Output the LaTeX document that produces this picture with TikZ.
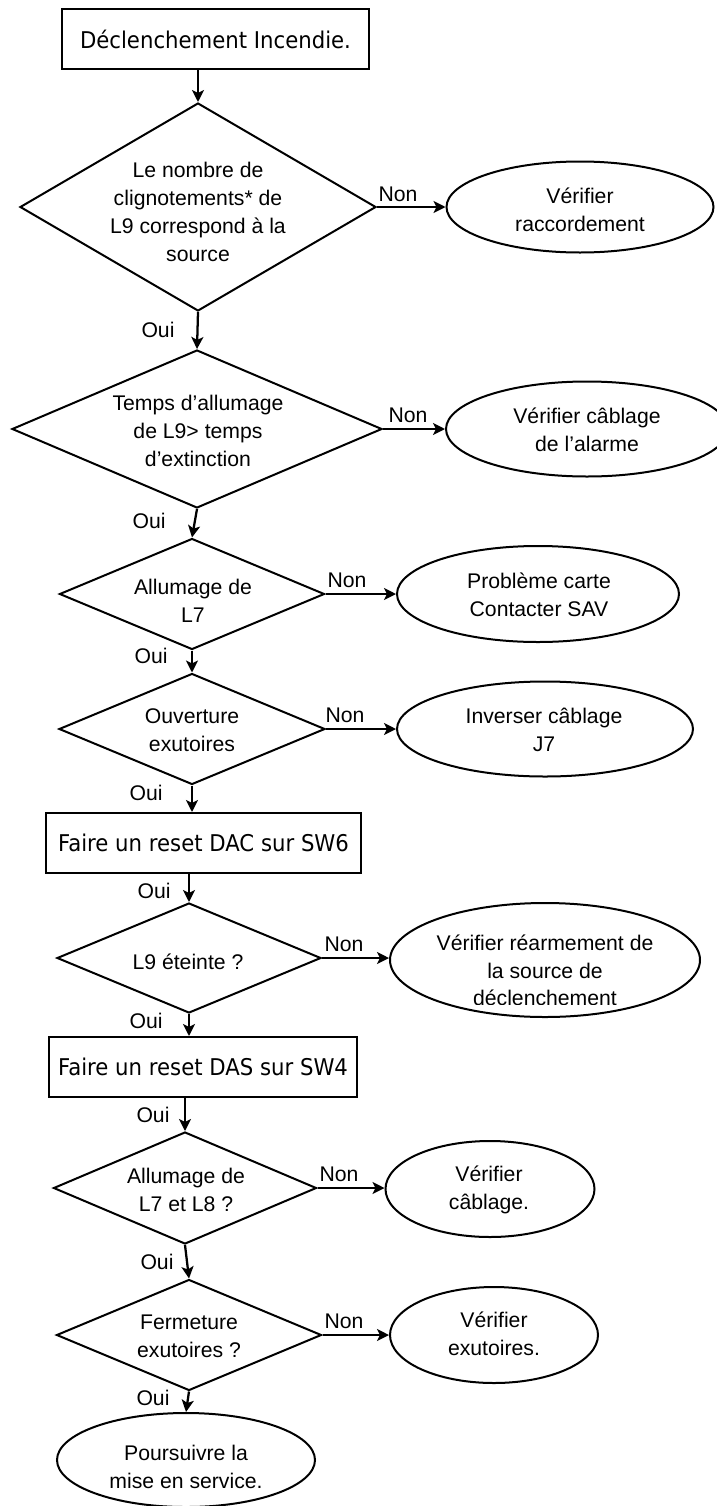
\documentclass[tikz,border=0pt]{standalone}
\usepackage{fontspec}
\setmainfont{Liberation Sans}
\newfontfamily\boxfont[FakeStretch=0.92]{DejaVu Sans}
\usetikzlibrary{shapes.geometric,arrows.meta}
\newlength\px
\setlength\px{0.75pt}
\begin{document}
\begin{tikzpicture}[x=0.75pt,y=-0.75pt,
  every node/.style={font=\fontsize{15.9pt}{20.8pt}\selectfont, text=black},
  dec/.style={diamond, draw, line width=1.5pt, inner sep=0pt},
  oval/.style={ellipse, draw, line width=1.5pt, inner sep=0pt},
  stepbox/.style={rectangle, draw, line width=1.5pt, inner sep=0pt, minimum height=60\px,
    font=\boxfont\fontsize{17.3pt}{20pt}\selectfont},
  txt/.style={align=center, inner sep=0pt},
  lbl/.style={inner sep=0pt},
  arr/.style={line width=1.7pt, -{Stealth[length=9pt,width=9pt,inset=2.2pt]}}
]
\fill[white] (0,0) rectangle (717,1506);
\clip (0,0) rectangle (717,1506);

% boxes
\node[stepbox, minimum width=307\px] (b1) at (215.5,39) {Déclenchement Incendie.};
\node[stepbox, minimum width=315\px] (dac) at (203.5,843) {Faire un reset DAC sur SW6};
\node[stepbox, minimum width=308\px] (das) at (203,1067) {Faire un reset DAS sur SW4};

% decisions
\node[dec, minimum width=356\px, minimum height=208\px] (d1) at (198,207) {};
\node[dec, minimum width=370\px, minimum height=158\px] (d2) at (197,429) {};
\node[dec, minimum width=265\px, minimum height=111\px] (d3) at (192,594) {};
\node[dec, minimum width=266\px, minimum height=111\px] (d4) at (192,729) {};
\node[dec, minimum width=264\px, minimum height=110\px] (d5) at (189,958) {};
\node[dec, minimum width=263\px, minimum height=112\px] (d6) at (185,1188) {};
\node[dec, minimum width=265\px, minimum height=111\px] (d7) at (189,1335) {};

\node[txt] (d1t) at (198,212) {Le nombre de\\clignotements* de\\L9 correspond à la\\source};
\node[txt] (d2t) at (198,431) {Temps d’allumage\\de L9> temps\\d’extinction};
\node[txt] (d3t) at (193,601) {Allumage de\\L7};
\node[txt] (d4t) at (192,730) {Ouverture\\exutoires};
\node[txt] (d5t) at (188,962) {L9 éteinte ?};
\node[txt] (d6t) at (186,1190) {Allumage de\\L7 et L8 ?};
\node[txt] (d7t) at (189,1336) {Fermeture\\exutoires ?};

% terminals
\node[oval, minimum width=267\px, minimum height=91\px] (e1) at (580,207) {};
\node[oval, minimum width=282\px, minimum height=95\px] (e2) at (587,429) {};
\node[oval, minimum width=282\px, minimum height=96\px] (e3) at (538,594) {};
\node[oval, minimum width=296\px, minimum height=95\px] (e4) at (545,729) {};
\node[oval, minimum width=310\px, minimum height=114\px] (e5) at (545,960) {};
\node[oval, minimum width=209\px, minimum height=96\px] (e6) at (490,1189) {};
\node[oval, minimum width=208\px, minimum height=96\px] (e7) at (494,1335) {};
\node[oval, minimum width=258\px, minimum height=94\px] (e8) at (186,1460) {};

\node[txt] (e1t) at (580,210) {Vérifier\\raccordement};
\node[txt] (e2t) at (587,430) {Vérifier câblage\\de l’alarme};
\node[txt] (e3t) at (539,595) {Problème carte\\Contacter SAV};
\node[txt] (e4t) at (544,730) {Inverser câblage\\J7};
\begin{scope}
\clip (380,890) rectangle (710,1004);
\node[txt] (e5t) at (545,970.5) {Vérifier réarmement de\\la source de\\déclenchement};
\end{scope}
\node[txt] (e6t) at (489,1190) {Vérifier\\câblage.};
\node[txt] (e7t) at (494,1334) {Vérifier\\exutoires.};
\node[txt] (e8t) at (186,1467) {Poursuivre la\\mise en service.};

% labels
\node[lbl] (n1) at (398,194) {Non};
\node[lbl] (n2) at (408,415) {Non};
\node[lbl] (n3) at (347,580) {Non};
\node[lbl] (n4) at (345,715) {Non};
\node[lbl] (n5) at (344,944) {Non};
\node[lbl] (n6) at (339,1174) {Non};
\node[lbl] (n7) at (344,1321) {Non};

\node[lbl] (o1) at (158,330) {Oui};
\node[lbl] (o2) at (149,521) {Oui};
\node[lbl] (o3) at (151,656) {Oui};
\node[lbl] (o4) at (146,793) {Oui};
\node[lbl] (o5) at (154,891) {Oui};
\node[lbl] (o6) at (146,1021) {Oui};
\node[lbl] (o7) at (153,1115) {Oui};
\node[lbl] (o8) at (157,1262) {Oui};
\node[lbl] (o9) at (153,1398) {Oui};

% vertical connectors
\draw[arr] (b1.south -| d1.north) -- (d1.north);
\draw[arr] (d1.south) -- (d2.north);
\draw[arr] (d2.south) -- (d3.north);
\draw[arr] (d3.south) -- (d4.north);
\draw[arr] (d4.south) -- (d4.south |- dac.north);
\draw[arr] (dac.south -| d5.north) -- (d5.north);
\draw[arr] (d5.south) -- (d5.south |- das.north);
\draw[arr] (das.south -| d6.north) -- (d6.north);
\draw[arr] (d6.south) -- (d7.north);
\draw[arr] (d7.south) -- (e8.north);

% horizontal connectors
\draw[arr] (d1.east) -- (d1.east -| e1.west);
\draw[arr] (d2.east) -- (d2.east -| e2.west);
\draw[arr] (d3.east) -- (d3.east -| e3.west);
\draw[arr] (d4.east) -- (d4.east -| e4.west);
\draw[arr] (d5.east) -- (d5.east -| e5.west);
\draw[arr] (d6.east) -- (d6.east -| e6.west);
\draw[arr] (d7.east) -- (d7.east -| e7.west);
\end{tikzpicture}
\end{document}
